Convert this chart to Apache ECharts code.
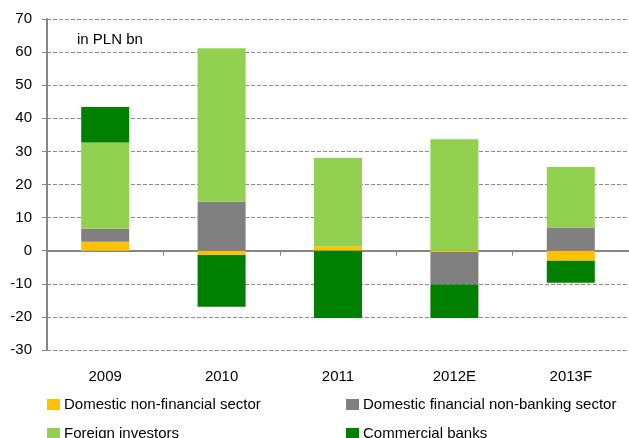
<!DOCTYPE html>
<html>
<head>
<meta charset="utf-8">
<script src="https://cdn.jsdelivr.net/npm/echarts@6/dist/echarts.min.js"></script>
<style>
  html, body { margin: 0; padding: 0; background: #fff; }
  #chart { width: 629px; height: 438px; }
</style>
</head>
<body>
<div id="chart"></div>
<script>
// values in PLN bn
const years = ['2009', '2010', '2011', '2012E', '2013F']
const nonFinancial = [2.7, -1.3, 1.3, -0.4, -3.0]
const finNonBanking = [3.9, 14.8, 0, -9.8, 7.0]
const foreignInv = [26.1, 46.4, 26.7, 33.7, 18.3]
const commBanks = [10.7, -15.6, -20.3, -10.1, -6.7]
const yTicks = { min: -30, max: 70, step: 10 }

const font = 'Liberation Sans, Arial, sans-serif'
const axisGrey = '#868686'

let chart = echarts.init(document.getElementById('chart'))

function bar(name, data, color) {
  return {
    name: name,
    type: 'bar',
    stack: 'total',
    barWidth: 48,
    data: data,
    itemStyle: { color: color },
    emphasis: { disabled: true }
  }
}

function legendItem(name, left, top) {
  return {
    left: left,
    top: top,
    padding: 0,
    itemWidth: 13,
    itemHeight: 11,
    icon: 'rect',
    data: [name],
    textStyle: { fontSize: 15, color: '#000', fontFamily: font, padding: [0, 0, 0, -1] }
  }
}

chart.setOption({
  animation: false,
  textStyle: { fontFamily: font },
  title: {
    text: 'in PLN bn',
    left: 77,
    top: 32,
    padding: 0,
    textStyle: { fontSize: 15, fontWeight: 'normal', color: '#000', fontFamily: font }
  },
  grid: { left: 47, right: 0, top: 19, bottom: 88 },
  legend: [
    legendItem('Domestic non-financial sector', 47, 397),
    legendItem('Foreign investors', 47, 426),
    legendItem('Domestic financial non-banking sector', 346, 397),
    legendItem('Commercial banks', 346, 426)
  ],
  xAxis: [
    {
      type: 'category',
      data: years,
      position: 'bottom',
      axisLine: { onZero: true, lineStyle: { color: axisGrey, width: 2 } },
      axisTick: { show: true, length: 5, lineStyle: { color: axisGrey, width: 1 } },
      axisLabel: { show: false }
    },
    {
      type: 'category',
      data: years,
      position: 'bottom',
      axisLine: { show: false, onZero: false },
      axisTick: { show: false },
      axisLabel: { fontSize: 15, color: '#000', margin: 19, fontFamily: font }
    }
  ],
  yAxis: {
    type: 'value',
    min: yTicks.min,
    max: yTicks.max,
    interval: yTicks.step,
    axisLine: { show: true, lineStyle: { color: axisGrey, width: 2 } },
    axisTick: { show: true, length: 5, lineStyle: { color: axisGrey } },
    axisLabel: { fontSize: 15, color: '#000', margin: 15, fontFamily: font },
    splitLine: { lineStyle: { color: '#8c8c8c', type: [4, 2], width: 1 } }
  },
  series: [
    bar('Domestic non-financial sector', nonFinancial, '#FFC000'),
    bar('Domestic financial non-banking sector', finNonBanking, '#808080'),
    bar('Foreign investors', foreignInv, '#92D050'),
    bar('Commercial banks', commBanks, '#008000')
  ]
})
</script>
</body>
</html>
